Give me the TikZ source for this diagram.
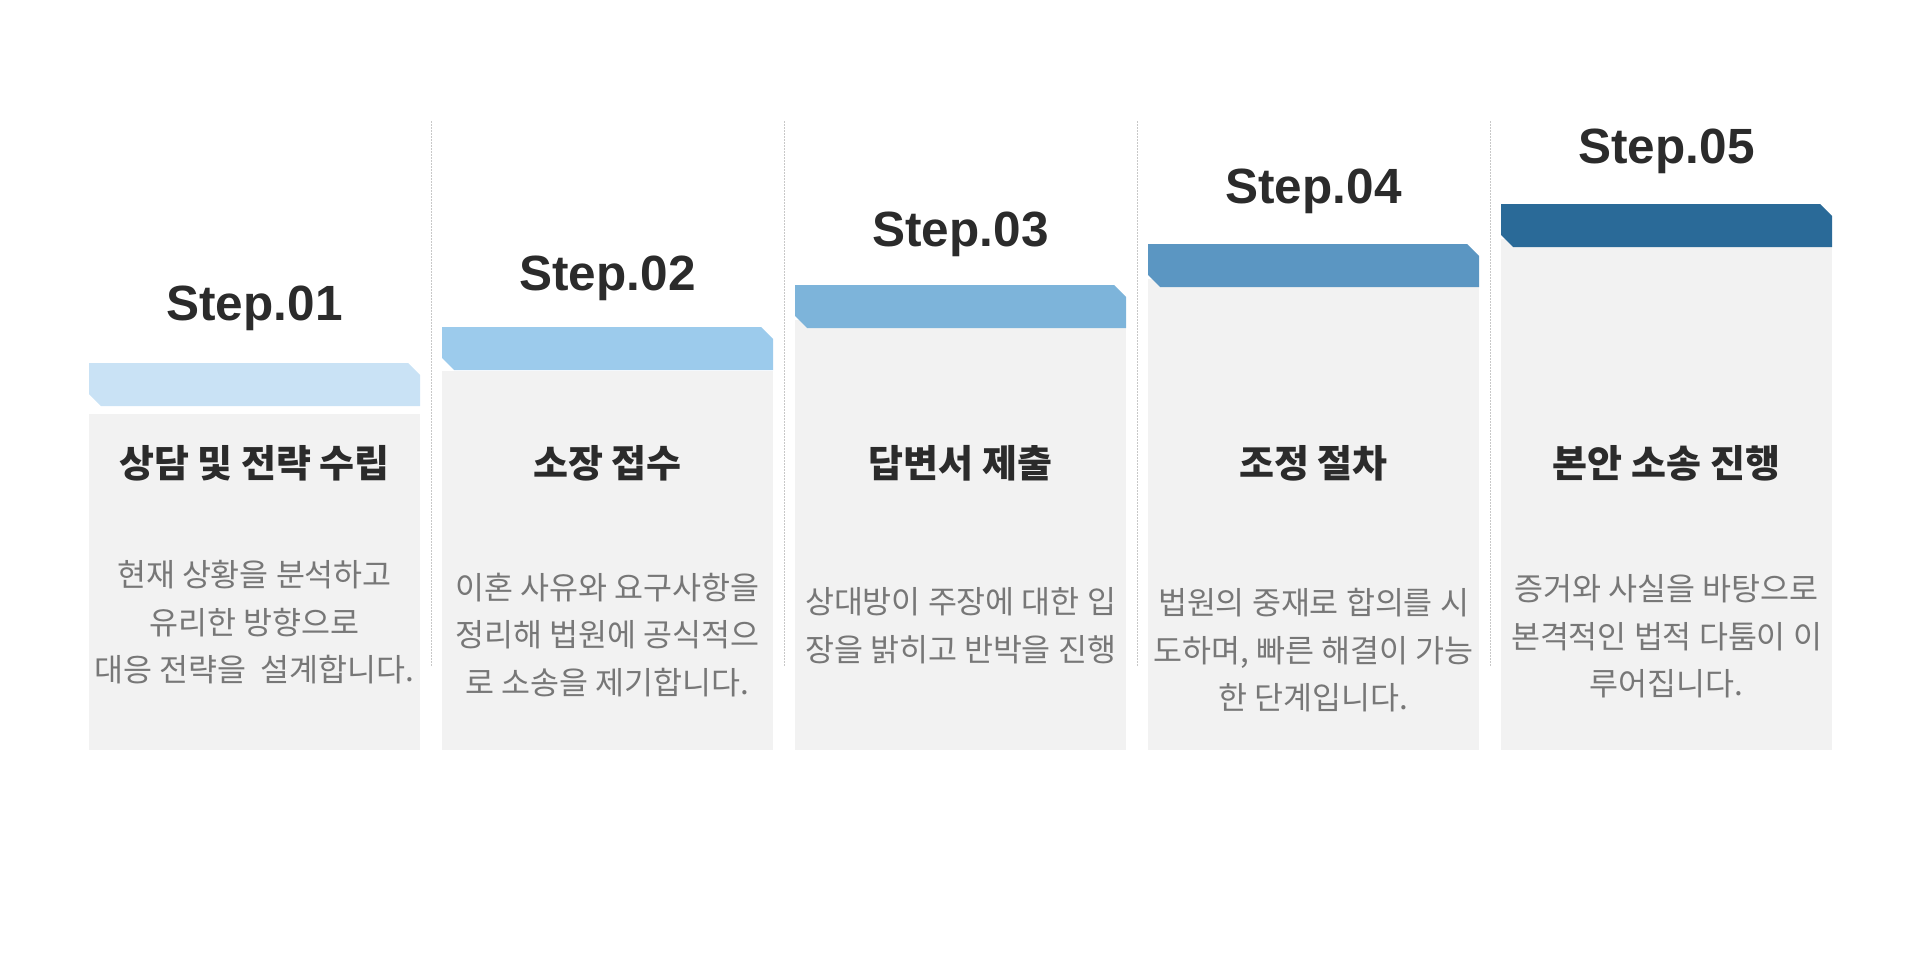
\documentclass[tikz,border=0pt]{standalone}
\usepackage{fontspec}
\newfontfamily\krfont{Noto Sans CJK KR}
\newfontfamily\stepfont{Liberation Sans}
\definecolor{boxgray}{HTML}{F2F2F2}
\definecolor{titleink}{HTML}{2B2B2B}
\definecolor{bodyink}{HTML}{777777}
\definecolor{sepgray}{HTML}{C8C8C8}
\definecolor{barA}{HTML}{C9E2F5}
\definecolor{barB}{HTML}{9CCBEC}
\definecolor{barC}{HTML}{7DB4DA}
\definecolor{barD}{HTML}{5B96C2}
\definecolor{barE}{HTML}{2A6A98}
\tikzset{
    steptitle/.style={anchor=base, inner sep=0pt, text=titleink,
        font=\stepfont\bfseries\fontsize{49.5}{56}\selectfont},
    stephead/.style={inner sep=0pt, text=titleink,
        font=\krfont\bfseries\fontsize{38}{44}\selectfont},
    stepbody/.style={inner sep=0pt, align=center, text=bodyink,
        font=\krfont\fontsize{31.5}{47.5}\selectfont},
    sepdots/.style={draw=sepgray, line width=1pt, dash pattern=on 1.5pt off 1.5pt}}

\begin{document}
\begin{tikzpicture}[x=1pt, y=-1pt]

    \useasboundingbox (0,0) rectangle (1920,969);

    \foreach \sx in {431,784,1137,1490}
        \draw[sepdots] (\sx,121) -- (\sx,667);

    \foreach \i/\bartop/\graytop/\barcol/\tbase/\bmid/\headtext/\bodytext in {
        1/363/414/barA/320/622.5/{상담 및 전략 수립}/{현재 상황을 분석하고\\유리한 방향으로\\대응 전략을~ 설계합니다.},
        2/327/371/barB/290/635/{소장 접수}/{이혼 사유와 요구사항을\\정리해 법원에 공식적으\\로 소송을 제기합니다.},
        3/285/320/barC/246/625.5/{답변서 제출}/{상대방이 주장에 대한 입\\장을 밝히고 반박을 진행},
        4/244/279/barD/203/650.5/{조정 절차}/{법원의 중재로 합의를 시\\도하며, 빠른 해결이 가능\\한 단계입니다.},
        5/204/239/barE/163/636.5/{본안 소송 진행}/{증거와 사실을 바탕으로\\본격적인 법적 다툼이 이\\루어집니다.}} {
        \pgfmathsetmacro\lx{89+353*(\i-1)}
        \pgfmathsetmacro\rx{\lx+331}
        \pgfmathsetmacro\cx{\lx+165.5}
        \fill[boxgray] (\lx,\graytop) rectangle (\rx,750);
        \fill[\barcol] (\lx,\bartop) -- (\rx-12,\bartop) -- (\rx,\bartop+12)
            -- (\rx,\bartop+43) -- (\lx+12,\bartop+43) -- (\lx,\bartop+31) -- cycle;
        \node[steptitle] (title\i) at (\cx,\tbase) {Step.0\i};
        \node[stephead] (head\i) at (\cx,463) {\headtext};
        \node[stepbody] (body\i) at (\cx,\bmid) {\bodytext};
    }

\end{tikzpicture}
\end{document}
